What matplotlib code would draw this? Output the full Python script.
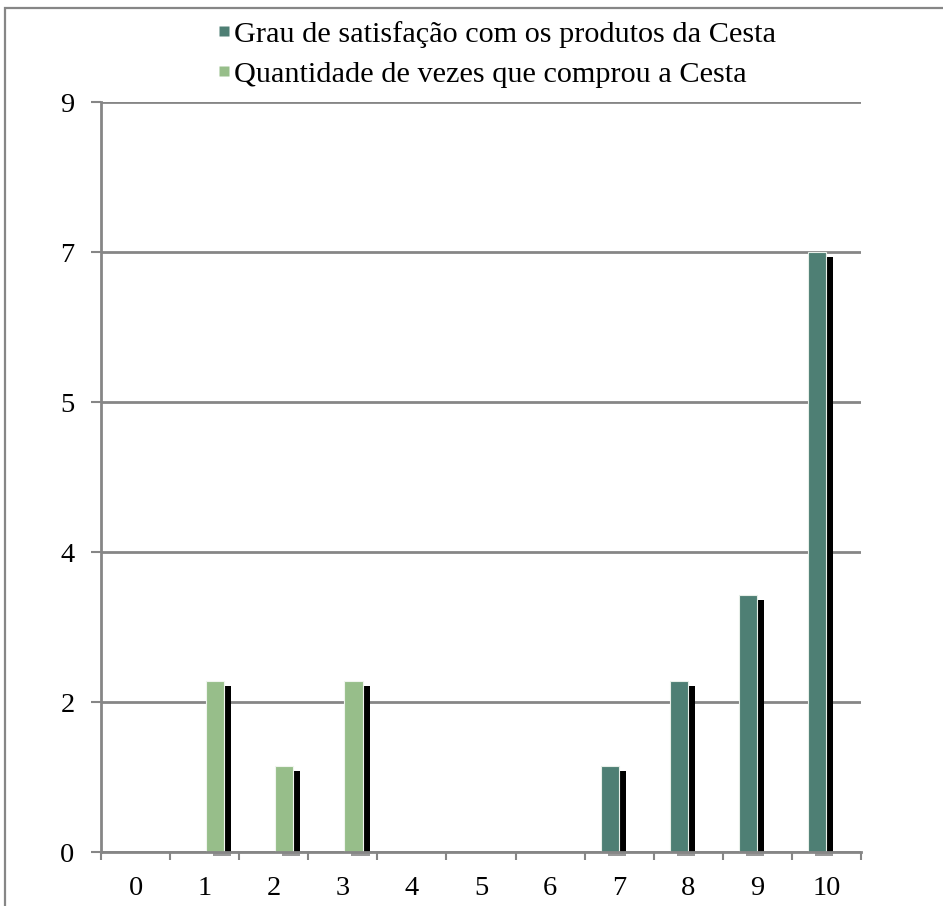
import numpy as np
import matplotlib
matplotlib.use("Agg")
import matplotlib.pyplot as plt
from matplotlib.patches import Rectangle
from matplotlib.lines import Line2D

# Data
notas = list(range(11))
grau_satisfacao = [0, 0, 0, 0, 0, 0, 0, 1, 2, 3, 7]
qtd_compras = [0, 2, 1, 2, 0, 0, 0, 0, 0, 0, 0]
serie_labels = ["Grau de satisfação com os produtos da Cesta",
                "Quantidade de vezes que comprou a Cesta"]
y_ticks = [0, 1.75, 3.5, 5.25, 7, 8.75]
y_tick_labels = ["0", "2", "4", "5", "7", "9"]

cor_grau = "#4e7f74"
cor_qtd = "#97be8a"
cor_eixo = "#868686"

plt.rcParams["font.family"] = ["Liberation Serif", "DejaVu Serif"]

W, H = 943, 906
fig = plt.figure(figsize=(W / 100, H / 100), dpi=100)
fig.patch.set_facecolor("white")

# outer chart border (runs off the right and bottom edges)
fig.add_artist(Rectangle((5 / W, -0.1), 1.2, (H - 8) / H + 0.1,
                         transform=fig.transFigure, fill=False,
                         edgecolor=cor_eixo, linewidth=1.6))

ax = fig.add_axes([101 / W, (H - 852) / H, 760 / W, 750 / H])
ax.set_xlim(-0.5, 10.5)
ax.set_ylim(0, 8.75)

x = np.array(notas, dtype=float)
w = 0.27
pos_grau = x - 0.135
pos_qtd = x + 0.15

# drop shadows behind the bars
px_x = 11 / 760.0  # category units per pixel
px_y = 8.75 / 750.0
for pos, vals in ((pos_grau, grau_satisfacao), (pos_qtd, qtd_compras)):
    for p, v in zip(pos, vals):
        if v > 0:
            ax.add_patch(Rectangle((p - w / 2 + 7 * px_x, 0), w,
                                   v - 5 * px_y, facecolor="black",
                                   edgecolor="none", zorder=2))
            ax.add_patch(Rectangle((p - w / 2 + 7 * px_x, -4 * px_y), w,
                                   4 * px_y, facecolor="#9a9a9a",
                                   edgecolor="none", zorder=1,
                                   clip_on=False))

vals_g = np.array(grau_satisfacao, dtype=float)
vals_q = np.array(qtd_compras, dtype=float)
m_g = vals_g > 0
m_q = vals_q > 0
ax.bar(pos_grau[m_g], vals_g[m_g], width=w, color=cor_grau,
       edgecolor="#e8efe9", linewidth=0.8, zorder=3)
ax.bar(pos_qtd[m_q], vals_q[m_q], width=w, color=cor_qtd,
       edgecolor="#f0f5ee", linewidth=0.8, zorder=3)

# axes styling
for s in ("top", "right"):
    ax.spines[s].set_visible(False)
for s in ("left", "bottom"):
    ax.spines[s].set_color(cor_eixo)
    ax.spines[s].set_linewidth(2)
    ax.spines[s].set_zorder(4)

ax.set_yticks(y_ticks)
ax.set_yticklabels(y_tick_labels)
ax.yaxis.grid(True, color=cor_eixo, linewidth=2)
ax.set_axisbelow(True)
ax.tick_params(axis="y", length=7, width=1.5, color=cor_eixo,
               pad=12, labelsize=20.5)

ax.set_xticks(x)
ax.set_xticklabels([str(n) for n in notas])
ax.set_xticks(np.arange(-0.5, 11, 1), minor=True)
ax.tick_params(axis="x", which="major", length=0, pad=17, labelsize=20.5)
ax.tick_params(axis="x", which="minor", length=5.5, width=1.5,
               color=cor_eixo)

handles = [Line2D([], [], linestyle="none", marker="s", markersize=6.6,
                  markerfacecolor=cor_grau, markeredgecolor="none"),
           Line2D([], [], linestyle="none", marker="s", markersize=6.6,
                  markerfacecolor=cor_qtd, markeredgecolor="none")]
fig.legend(handles, serie_labels, loc="center",
           bbox_to_anchor=(497 / W, 1 - 54 / H), frameon=False,
           fontsize=21.8, handlelength=0.35,
           handletextpad=0.16, labelspacing=0.42, borderpad=0)

fig.savefig("out.png", dpi=100)
